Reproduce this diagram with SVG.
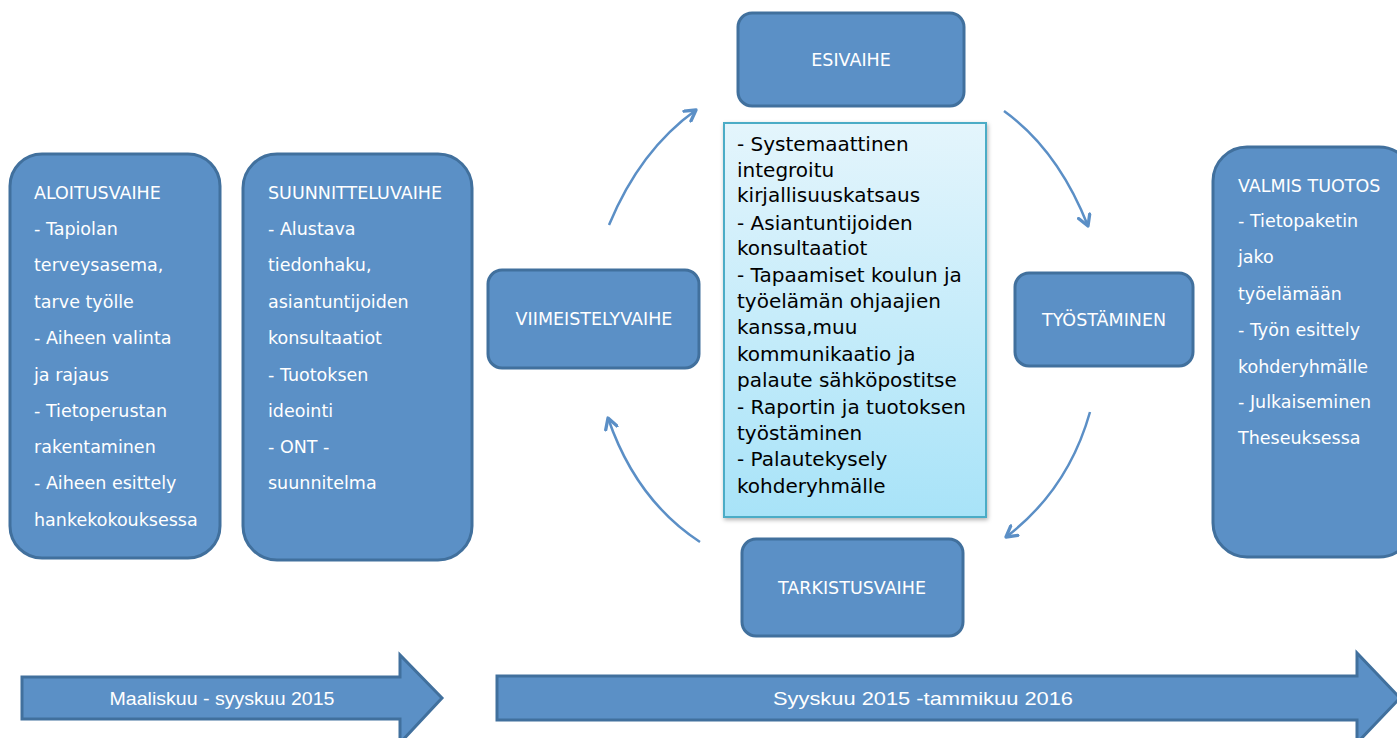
<svg xmlns="http://www.w3.org/2000/svg" width="1397" height="738" viewBox="0 0 1397 738">
<defs>
<linearGradient id="cg" x1="0" y1="0" x2="0" y2="1">
<stop offset="0" stop-color="#e4f5fc"/>
<stop offset="1" stop-color="#a8e3f8"/>
</linearGradient>
<filter id="sh" x="-10%" y="-10%" width="120%" height="120%">
<feDropShadow dx="1" dy="2" stdDeviation="2" flood-color="#000" flood-opacity="0.3"/>
</filter>
<marker id="ah" viewBox="0 0 10 10" refX="8" refY="5" markerWidth="6" markerHeight="6" orient="auto" markerUnits="strokeWidth">
<path d="M1,1 L8,5 L1,9" fill="none" stroke="#5b8fc6" stroke-width="2.2" stroke-linecap="round" stroke-linejoin="round"/>
</marker>
<style>
.box{fill:#5b90c6;stroke:#41709d;stroke-width:3}
.wt{font-family:"DejaVu Sans",sans-serif;font-size:17.5px;fill:#ffffff}
.bt{font-family:"DejaVu Sans",sans-serif;font-size:20px;fill:#000000}
.at{font-family:"Liberation Sans",sans-serif;font-size:19px;fill:#ffffff}
.con{fill:none;stroke:#5b8fc6;stroke-width:2.5;marker-end:url(#ah)}
</style>
</defs>
<rect width="1397" height="738" fill="#ffffff"/>

<g id="aloitusvaihe">
<rect class="box" x="10" y="154" width="210" height="404" rx="32"/>
<text class="wt" x="34" y="199">ALOITUSVAIHE</text>
<text class="wt" x="34" y="235">- Tapiolan</text>
<text class="wt" x="34" y="271">terveysasema,</text>
<text class="wt" x="34" y="308">tarve työlle</text>
<text class="wt" x="34" y="344">- Aiheen valinta</text>
<text class="wt" x="34" y="381">ja rajaus</text>
<text class="wt" x="34" y="417">- Tietoperustan</text>
<text class="wt" x="34" y="453">rakentaminen</text>
<text class="wt" x="34" y="489">- Aiheen esittely</text>
<text class="wt" x="34" y="526">hankekokouksessa</text>
</g>

<g id="suunnitteluvaihe">
<rect class="box" x="243" y="154" width="229" height="406" rx="34"/>
<text class="wt" x="268" y="199">SUUNNITTELUVAIHE</text>
<text class="wt" x="268" y="235">- Alustava</text>
<text class="wt" x="268" y="271">tiedonhaku,</text>
<text class="wt" x="268" y="308">asiantuntijoiden</text>
<text class="wt" x="268" y="344">konsultaatiot</text>
<text class="wt" x="268" y="381">- Tuotoksen</text>
<text class="wt" x="268" y="417">ideointi</text>
<text class="wt" x="268" y="453">- ONT -</text>
<text class="wt" x="268" y="489">suunnitelma</text>
</g>

<g id="esivaihe">
<rect class="box" x="738" y="13" width="226" height="93" rx="14"/>
<text class="wt" x="851" y="66" text-anchor="middle">ESIVAIHE</text>
</g>

<g id="viimeistelyvaihe">
<rect class="box" x="488" y="270" width="211" height="98" rx="14"/>
<text class="wt" x="594" y="325" text-anchor="middle">VIIMEISTELYVAIHE</text>
</g>

<g id="tyostaminen">
<rect class="box" x="1015" y="273" width="178" height="93" rx="14"/>
<text class="wt" x="1104" y="326" text-anchor="middle">TYÖSTÄMINEN</text>
</g>

<g id="tarkistusvaihe">
<rect class="box" x="742" y="539" width="221" height="97" rx="14"/>
<text class="wt" x="852" y="594" text-anchor="middle">TARKISTUSVAIHE</text>
</g>

<g id="valmis-tuotos">
<rect class="box" x="1213" y="147" width="200" height="410" rx="34"/>
<text class="wt" x="1238" y="192">VALMIS TUOTOS</text>
<text class="wt" x="1238" y="227">- Tietopaketin</text>
<text class="wt" x="1238" y="263">jako</text>
<text class="wt" x="1238" y="300">työelämään</text>
<text class="wt" x="1238" y="336">- Työn esittely</text>
<text class="wt" x="1238" y="373">kohderyhmälle</text>
<text class="wt" x="1238" y="408">- Julkaiseminen</text>
<text class="wt" x="1238" y="444">Theseuksessa</text>
</g>

<g id="sisalto">
<rect x="724" y="123" width="262" height="394" fill="url(#cg)" stroke="#4bacc6" stroke-width="2" filter="url(#sh)"/>
<text class="bt" x="737" y="151">- Systemaattinen</text>
<text class="bt" x="737" y="177">integroitu</text>
<text class="bt" x="737" y="202">kirjallisuuskatsaus</text>
<text class="bt" x="737" y="230">- Asiantuntijoiden</text>
<text class="bt" x="737" y="255">konsultaatiot</text>
<text class="bt" x="737" y="282">- Tapaamiset koulun ja</text>
<text class="bt" x="737" y="308">työelämän ohjaajien</text>
<text class="bt" x="737" y="334">kanssa,muu</text>
<text class="bt" x="737" y="361">kommunikaatio ja</text>
<text class="bt" x="737" y="387">palaute sähköpostitse</text>
<text class="bt" x="737" y="414">- Raportin ja tuotoksen</text>
<text class="bt" x="737" y="440">työstäminen</text>
<text class="bt" x="737" y="466">- Palautekysely</text>
<text class="bt" x="737" y="493">kohderyhmälle</text>
</g>

<g id="connectors">
<path class="con" d="M609,225 Q640,150 696,110"/>
<path class="con" d="M1004,111 Q1058,150 1088,226"/>
<path class="con" d="M1090,412 Q1068,490 1006,537"/>
<path class="con" d="M700,542 Q636,500 608,418"/>
</g>

<g id="aikajana-1">
<path class="box" d="M22,677 L400,677 L400,655 L442,698 L400,743 L400,719 L22,719 Z"/>
<text class="at" x="222" y="705" text-anchor="middle" textLength="225" lengthAdjust="spacingAndGlyphs">Maaliskuu - syyskuu 2015</text>
</g>

<g id="aikajana-2">
<path class="box" d="M497,676 L1357,676 L1357,653 L1400,698 L1357,743 L1357,720 L497,720 Z"/>
<text class="at" x="923" y="705" text-anchor="middle" textLength="300" lengthAdjust="spacingAndGlyphs">Syyskuu 2015 -tammikuu 2016</text>
</g>
</svg>
